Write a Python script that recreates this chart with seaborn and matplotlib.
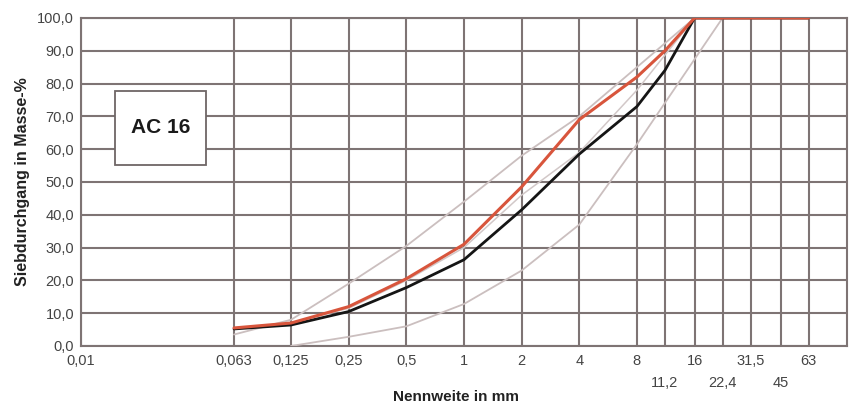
import numpy as np
import pandas as pd
import matplotlib
matplotlib.use("Agg")
import matplotlib.pyplot as plt
from matplotlib.patches import Rectangle
import seaborn as sns

# Siebgrößen (mm) und Durchgänge (Masse-%)
sieves = [0.063, 0.125, 0.25, 0.5, 1, 2, 4, 8, 11.2, 16, 22.4, 31.5, 45, 63]
red_curve   = [5.5, 7.0, 12.0, 20.5, 31.0, 48.5, 69.0, 82.0, 90.0, 100, 100, 100, 100, 100]
black_curve = [5.2, 6.4, 10.5, 17.8, 26.3, 41.5, 58.5, 73.0, 84.0, 100, 100, 100, 100, 100]
upper_limit = [3.5, 8.0, 19.0, 30.5, 44.0, 58.0, 70.0, 85.0, np.nan, 100, 100, 100, 100, 100]
mid_line    = [np.nan, 7.0, 11.5, 20.0, 30.0, 46.0, 59.0, 78.0, np.nan, 100, 100, 100, 100, 100]
lower_limit = [np.nan, 0.0, 2.8, 6.0, 12.8, 23.0, 37.0, 61.5, np.nan, np.nan, 100, 100, 100, 100]

tick_vals = [0.01, 0.063, 0.125, 0.25, 0.5, 1, 2, 4, 8, 11.2, 16, 22.4, 31.5, 45, 63]
tick_text = ["0,01", "0,063", "0,125", "0,25", "0,5", "1", "2", "4", "8",
             "\n11,2", "16", "\n22,4", "31,5", "\n45", "63"]
y_vals = list(range(0, 101, 10))

sns.set_theme(style="white")
plt.rcParams["font.family"] = ["Liberation Sans", "DejaVu Sans"]

GRID = "#7e7474"
TXT = "#444444"

fig = plt.figure(figsize=(8.55, 4.05), dpi=100, facecolor="white")
ax = fig.add_axes([0.0947, 0.1457, 0.8959, 0.8099])
ax.set_facecolor("white")

for vals, col, lw in [(upper_limit, "#cbbfbf", 1.3), (mid_line, "#d2c8c8", 1.1),
                      (lower_limit, "#cbbfbf", 1.3)]:
    d = pd.DataFrame({"x": sieves, "y": vals}).dropna()
    sns.lineplot(data=d, x="x", y="y", ax=ax, color=col, linewidth=lw, zorder=3)

sns.lineplot(x=sieves, y=black_curve, ax=ax, color="#151515", linewidth=2.0, zorder=4)
sns.lineplot(x=sieves, y=red_curve, ax=ax, color="#d8553c", linewidth=2.2, zorder=5)

ax.set_xscale("log")
ax.set_xlim(0.01, 100)
ax.set_ylim(0, 100)
ax.set_xticks(tick_vals)
ax.set_xticklabels(tick_text)
ax.xaxis.set_minor_locator(matplotlib.ticker.NullLocator())
ax.set_yticks(y_vals)
ax.set_yticklabels([f"{v:.1f}".replace(".", ",") for v in y_vals])
for lb in ax.get_xticklabels():
    lb.set_linespacing(1.7)

ax.grid(True, color=GRID, linewidth=1.5, zorder=1)
for sp in ax.spines.values():
    sp.set_visible(True)
    sp.set_color(GRID)
    sp.set_linewidth(1.5)
ax.tick_params(axis="both", colors=GRID, labelcolor=TXT, labelsize=10.5,
               length=3, width=1, direction="out", pad=2)
ax.tick_params(axis="x", pad=3)

ax.set_xlabel("Nennweite in mm", fontsize=11, fontweight="bold", color="#222222")
ax.xaxis.set_label_coords(0.49, -0.135)
ax.set_ylabel("Siebdurchgang in Masse-%", fontsize=11.5, fontweight="bold", color="#222222",
              labelpad=5)

# Beschriftungsfeld
ax.add_patch(Rectangle((0.0444, 0.552), 0.1188, 0.2256, transform=ax.transAxes,
                       facecolor="white", edgecolor="#6e6666", linewidth=1.3, zorder=6))
ax.text(0.1038, 0.665, "AC 16", transform=ax.transAxes, ha="center", va="center",
        fontsize=15, fontweight="bold", color="#1a1a1a", zorder=7)

fig.savefig("out.png", dpi=100, facecolor="white")
